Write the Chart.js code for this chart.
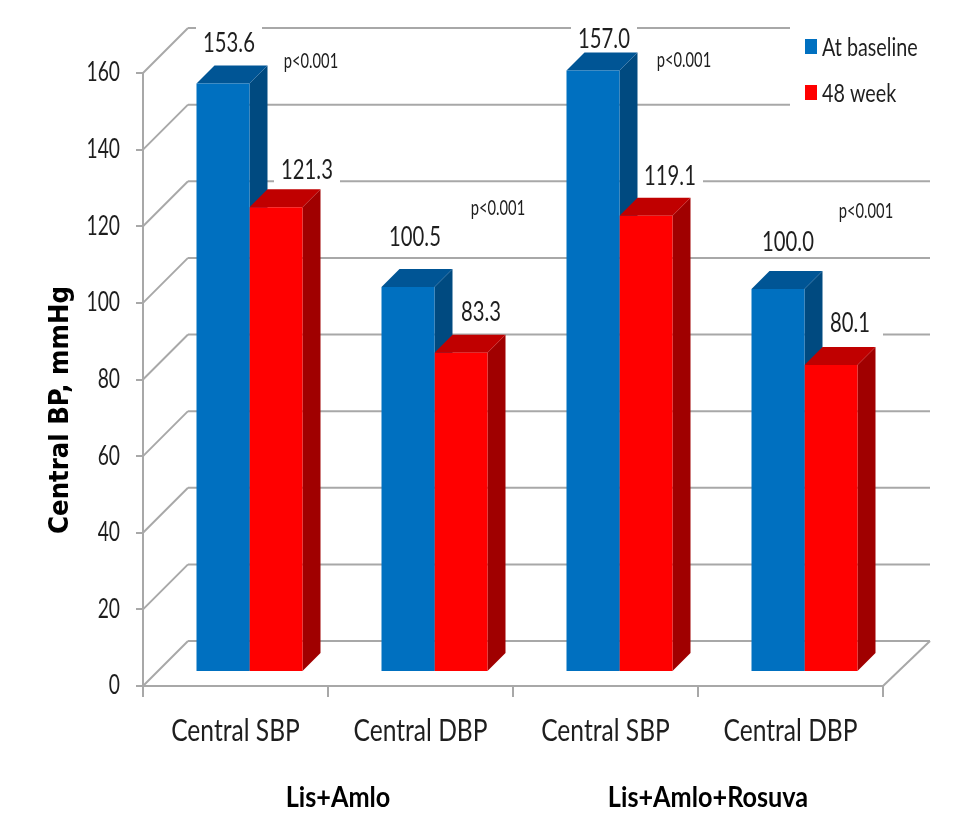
<!DOCTYPE html>
<html>
<head>
<meta charset="utf-8">
<style>
  html, body { margin: 0; padding: 0; background: #fff; }
  #wrap { width: 958px; height: 820px; }
</style>
<script src="https://cdn.jsdelivr.net/npm/chart.js@4"></script>
</head>
<body>
<div id="wrap"><canvas id="chart" width="958" height="820"></canvas></div>
<script>
const categories = ["Central SBP", "Central DBP", "Central SBP", "Central DBP"];
const baselineValues = [153.6, 100.5, 157.0, 100.0];
const week48Values = [121.3, 83.3, 119.1, 80.1];
const pLabels = ["p<0.001", "p<0.001", "p<0.001", "p<0.001"];
const groupLabels = ["Lis+Amlo", "Lis+Amlo+Rosuva"];
const seriesNames = ["At baseline", "48 week"];

const TEXT_FONT = "Lato, sans-serif";
const INK = "#1e1e1e";
const GRID = "#a8a8a8";
const WALL = 45;      // how far the back wall sits behind the axes
const BAR_SHIFT = 14; // bars stand a little behind the front edge
const BAR_DEPTH = 18;

const faces = [
  { front: "#0070c0", top: "#005595", side: "#004a80" },
  { front: "#ff0000", top: "#c00000", side: "#a00000" },
];

// value labels were placed by hand around each bar: [dx, dy] from the top centre
const labelNudge = [
  [[6, -42], [7, -52], [11, -33], [10, -49]],
  [[31, -39], [20, -43], [24, -41], [19, -44]],
];
const pLabelPos = [[311, 61], [498, 208], [684, 60], [866, 211]];

function poly(ctx, color, pts) {
  ctx.fillStyle = color;
  ctx.beginPath();
  pts.forEach((p, i) => (i ? ctx.lineTo(p[0], p[1]) : ctx.moveTo(p[0], p[1])));
  ctx.closePath();
  ctx.fill();
}

function line(ctx, x1, y1, x2, y2) {
  ctx.beginPath();
  ctx.moveTo(x1, y1);
  ctx.lineTo(x2, y2);
  ctx.stroke();
}

// the chart uses a tall condensed look, so text is squeezed sideways
function squeezed(ctx, text, x, y, sx, align = "center") {
  ctx.save();
  ctx.translate(x, y);
  ctx.scale(sx, 1);
  ctx.textAlign = align;
  ctx.fillText(text, 0, 0);
  ctx.restore();
}

function valueLabelPos(chart, ds, i) {
  const el = chart.getDatasetMeta(ds).data[i];
  const n = labelNudge[ds][i];
  return [el.x + BAR_SHIFT + n[0], el.y - BAR_SHIFT + n[1]];
}

// side and top faces; expects the context to be shifted already
function drawFaces(ctx, meta, f) {
  for (const el of meta.data) {
    const l = el.x - el.width / 2;
    const r = el.x + el.width / 2;
    const d = BAR_DEPTH;
    poly(ctx, f.side, [[r, el.y], [r + d, el.y - d], [r + d, el.base - d], [r, el.base]]);
    poly(ctx, f.top, [[l, el.y], [l + d, el.y - d], [r + d, el.y - d], [r, el.y]]);
  }
}

const bars3d = {
  id: "bars3d",
  beforeDatasetsDraw(chart) {
    const { ctx, scales: { x, y } } = chart;
    ctx.save();
    ctx.strokeStyle = GRID;
    ctx.lineWidth = 2;
    // back wall and floor lines
    for (const t of y.ticks) {
      const py = y.getPixelForValue(t.value);
      line(ctx, x.left, py, x.left + WALL, py - WALL);
      line(ctx, x.left + WALL, py - WALL, x.right + WALL + 2, py - WALL);
    }
    line(ctx, x.right, y.bottom, x.right + WALL + 2, y.bottom - WALL);
    // white boxes behind the legend and the value labels cut the lines
    ctx.fillStyle = "#fff";
    ctx.fillRect(790, 0, 168, 125);
    chart.data.datasets.forEach((d, ds) => {
      d.data.forEach((v, i) => {
        const p = valueLabelPos(chart, ds, i);
        ctx.fillRect(p[0] - 33, p[1] - 15, 66, 30);
      });
    });
    // Chart.js paints the last dataset first, but the red top face has to
    // cover the blue side, so the blue faces go down before everything else
    ctx.translate(BAR_SHIFT, -BAR_SHIFT);
    drawFaces(ctx, chart.getDatasetMeta(0), faces[0]);
    ctx.restore();
  },
  beforeDatasetDraw(chart, args) {
    const ctx = chart.ctx;
    ctx.save();
    ctx.translate(BAR_SHIFT, -BAR_SHIFT);
    if (args.index > 0) drawFaces(ctx, args.meta, faces[args.index]);
  },
  afterDatasetDraw(chart) {
    chart.ctx.restore();
  },
  afterDraw(chart) {
    const { ctx, scales: { x, y } } = chart;
    ctx.save();
    ctx.fillStyle = INK;
    ctx.textBaseline = "middle";

    // axis tick labels
    ctx.font = "26px " + TEXT_FONT;
    for (const t of y.ticks) {
      squeezed(ctx, t.label, x.left - 23, y.getPixelForValue(t.value), 0.74, "right");
    }
    ctx.font = "30px " + TEXT_FONT;
    x.ticks.forEach((t, i) => squeezed(ctx, t.label, x.getPixelForValue(i), 731, 0.82));

    // value labels
    ctx.font = "27px " + TEXT_FONT;
    chart.data.datasets.forEach((d, ds) => {
      d.data.forEach((v, i) => {
        const p = valueLabelPos(chart, ds, i);
        squeezed(ctx, v.toFixed(1), p[0], p[1] + 2, 0.75);
      });
    });

    ctx.font = "21px " + TEXT_FONT;
    pLabels.forEach((t, i) => squeezed(ctx, t, pLabelPos[i][0], pLabelPos[i][1], 0.7));

    // group captions under each pair of categories
    ctx.fillStyle = "#000";
    ctx.font = "bold 29px " + TEXT_FONT;
    groupLabels.forEach((t, i) => {
      const mid = (x.getPixelForValue(i * 2) + x.getPixelForValue(i * 2 + 1)) / 2;
      squeezed(ctx, t, mid + 10, 798, 0.87);
    });

    // y axis caption
    ctx.save();
    ctx.translate(61, 410);
    ctx.rotate(-Math.PI / 2);
    ctx.font = 'bold 26px "DejaVu Sans", sans-serif';
    squeezed(ctx, "Central BP, mmHg", 0, 0, 0.94);
    ctx.restore();

    // legend
    ctx.font = "25px " + TEXT_FONT;
    seriesNames.forEach((name, i) => {
      const top = 39 + i * 46;
      ctx.fillStyle = faces[i].front;
      ctx.fillRect(805, top, 12, 15);
      ctx.fillStyle = INK;
      squeezed(ctx, name, 822, top + 9, 0.79, "left");
    });
    ctx.restore();
  },
};

new Chart(document.getElementById("chart"), {
  type: "bar",
  data: {
    labels: categories,
    datasets: [
      { label: seriesNames[0], data: baselineValues, backgroundColor: faces[0].front, clip: false },
      { label: seriesNames[1], data: week48Values, backgroundColor: faces[1].front, clip: false },
    ],
  },
  options: {
    responsive: false,
    animation: false,
    layout: { padding: { left: 0, top: 73, right: 75, bottom: 0 } },
    plugins: { legend: { display: false }, tooltip: { enabled: false } },
    datasets: { bar: { barPercentage: 1, categoryPercentage: 106 / 185 } },
    scales: {
      x: {
        afterFit: (s) => { s.height = 134; },
        grid: { drawOnChartArea: false, color: GRID, lineWidth: 2, tickLength: 11 },
        border: { color: GRID, width: 2 },
        ticks: { display: false },
      },
      y: {
        min: 0,
        max: 160,
        afterFit: (s) => { s.width = 143; },
        grid: { drawOnChartArea: false, color: GRID, lineWidth: 2, tickLength: 7 },
        border: { color: GRID, width: 2 },
        ticks: { stepSize: 20, display: false },
      },
    },
  },
  plugins: [bars3d],
});
</script>
</body>
</html>
